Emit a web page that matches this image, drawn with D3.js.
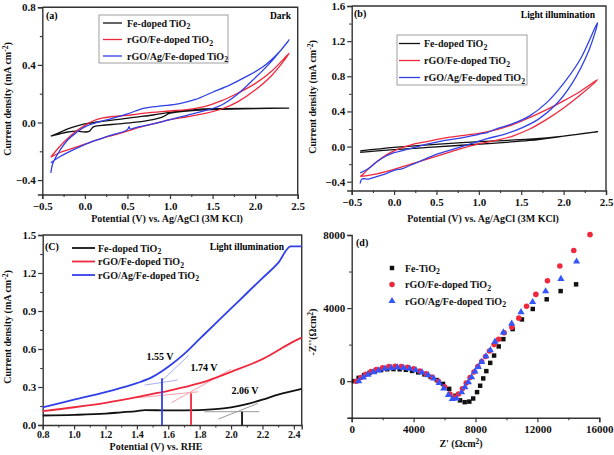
<!DOCTYPE html>
<html><head><meta charset="utf-8">
<script src="https://cdn.jsdelivr.net/npm/d3@7"></script>
<style>
body{margin:0;background:#fff;}
svg{display:block;font-family:"Liberation Serif","Times New Roman",serif;font-weight:bold;}
</style></head>
<body>
<svg id="chart" width="614" height="455"></svg>
<script>
// ---------- DATA ----------
const seriesNames = ["Fe-doped TiO", "rGO/Fe-doped TiO", "rGO/Ag/Fe-doped TiO"];
const eisNames = ["Fe-TiO", "rGO/Fe-doped TiO", "rGO/Ag/Fe-doped TiO"];
const colors = ["#111111", "#f0283c", "#3040e8"];

// (a) Dark CV loops [V, mA cm-2]
const darkFe = [[-0.4,-0.095],[-0.3,-0.07],[-0.2,-0.045],[-0.1,-0.025],[0,-0.01],[0.2,0.008],[0.4,0.022],[0.6,0.037],[0.8,0.052],[1.0,0.07],[1.2,0.085],[1.4,0.095],[1.6,0.096],[2.0,0.098],[2.4,0.1],
  [2.0,0.097],[1.6,0.092],[1.4,0.087],[1.2,0.08],[1.0,0.065],[0.95,0.05],[0.9,0.035],[0.8,0.02],[0.6,0.002],[0.4,-0.01],[0.2,-0.02],[0.1,-0.03],[0.05,-0.062],[0,-0.066],[-0.1,-0.06],[-0.2,-0.066],[-0.3,-0.08],[-0.4,-0.095]];
const darkRGO = [[-0.4,-0.24],[-0.3,-0.17],[-0.2,-0.11],[-0.1,-0.06],[0,-0.02],[0.1,0.012],[0.2,0.03],[0.3,0.04],[0.5,0.05],[0.7,0.065],[1.0,0.08],[1.2,0.09],[1.4,0.11],[1.6,0.15],[1.8,0.205],[2.0,0.27],[2.2,0.36],[2.4,0.48],
  [2.2,0.33],[2.0,0.225],[1.8,0.145],[1.6,0.092],[1.4,0.062],[1.2,0.04],[1.0,0.02],[0.8,-0.01],[0.6,-0.04],[0.4,-0.078],[0.2,-0.11],[0,-0.15],[-0.2,-0.19],[-0.3,-0.21],[-0.4,-0.24]];
const darkAg = [[-0.4,-0.35],[-0.38,-0.29],[-0.35,-0.25],[-0.3,-0.2],[-0.2,-0.12],[-0.1,-0.07],[0,-0.03],[0.2,0.01],[0.3,0.025],[0.5,0.06],[0.7,0.1],[0.9,0.115],[1.1,0.13],[1.3,0.16],[1.5,0.21],[1.7,0.26],[1.9,0.32],[2.1,0.39],[2.3,0.5],[2.4,0.575],
  [2.2,0.43],[2.0,0.31],[1.8,0.2],[1.6,0.12],[1.4,0.08],[1.2,0.05],[1.0,0.02],[0.8,-0.01],[0.6,-0.035],[0.53,-0.045],[0.52,-0.028],[0.5,-0.05],[0.3,-0.09],[0.1,-0.13],[-0.1,-0.18],[-0.3,-0.24],[-0.4,-0.28]];

// (b) Light CV loops
const lightFe = [[-0.4,-0.05],[0,-0.01],[0.4,0.02],[0.8,0.045],[1.2,0.065],[1.6,0.085],[2.0,0.12],[2.4,0.17],
  [2.0,0.118],[1.6,0.07],[1.2,0.04],[0.8,0.015],[0.4,-0.01],[0,-0.035],[-0.4,-0.065]];
const lightRGO = [[-0.4,-0.34],[-0.35,-0.3],[-0.3,-0.25],[-0.2,-0.17],[-0.1,-0.1],[0,-0.05],[0.1,-0.01],[0.2,0.02],[0.4,0.06],[0.6,0.1],[0.8,0.125],[1.0,0.15],[1.2,0.19],[1.4,0.25],[1.6,0.33],[1.8,0.42],[2.0,0.52],[2.2,0.63],[2.4,0.76],
  [2.2,0.59],[2.0,0.44],[1.8,0.31],[1.6,0.2],[1.4,0.12],[1.2,0.07],[1.0,0.03],[0.8,-0.02],[0.6,-0.08],[0.4,-0.14],[0.2,-0.2],[0,-0.26],[-0.2,-0.31],[-0.4,-0.34]];
const lightAg = [[-0.4,-0.42],[-0.38,-0.37],[-0.3,-0.37],[-0.2,-0.34],[-0.1,-0.31],[0,-0.27],[0.1,-0.25],[0.2,-0.21],[0.3,-0.17],[0.5,-0.09],[0.7,-0.03],[0.9,0.03],[1.1,0.09],[1.3,0.14],[1.5,0.21],[1.7,0.31],[1.9,0.47],[2.1,0.72],[2.3,1.1],[2.4,1.41],
  [2.2,1.0],[2.0,0.72],[1.8,0.5],[1.6,0.35],[1.4,0.26],[1.2,0.2],[1.1,0.16],[1.0,0.14],[0.8,0.1],[0.6,0.07],[0.4,0.03],[0.2,-0.02],[0,-0.07],[-0.1,-0.11],[-0.2,-0.17],[-0.3,-0.25],[-0.4,-0.3]];

// (c) LSV vs RHE
const lsvFe = [[0.8,0.075],[1.0,0.08],[1.2,0.09],[1.3,0.1],[1.4,0.11],[1.45,0.118],[1.6,0.115],[1.8,0.118],[1.9,0.125],[2.0,0.14],[2.1,0.165],[2.2,0.2],[2.3,0.24],[2.45,0.285]];
const lsvRGO = [[0.8,0.11],[1.0,0.14],[1.2,0.175],[1.4,0.22],[1.5,0.245],[1.6,0.27],[1.74,0.31],[1.8,0.33],[2.0,0.42],[2.2,0.52],[2.4,0.66],[2.45,0.69]];
const lsvAg = [[0.8,0.14],[1.0,0.2],[1.2,0.26],[1.4,0.33],[1.5,0.38],[1.6,0.46],[1.7,0.56],[1.8,0.68],[1.9,0.8],[2.0,0.92],[2.1,1.04],[2.2,1.16],[2.3,1.28],[2.38,1.41],[2.45,1.41]];
const onsetLabels = ["2.06 V", "1.74 V", "1.55 V"];
const onsetMarkX = [2.07, 1.745, 1.56];
const onsetMarkTop = [0.105, 0.25, 0.37];
const tangentsFe = [[[1.83,0.105],[2.18,0.105]], [[1.92,0.047],[2.17,0.17]]];
const tangentsRGO = [[[1.4,0.215],[1.79,0.262]], [[1.62,0.176],[2.0,0.44]]];
const tangentsAg = [[[1.45,0.315],[1.66,0.355]], [[1.56,0.35],[1.73,0.55]]];

// (d) Nyquist [Z', -Z'']
const eisFe = [[150,0],[450,180],[800,330],[1150,450],[1500,540],[1900,610],[2300,650],[2700,660],[3100,650],[3500,620],[3900,560],[4300,480],[4700,370],[5100,230],[5500,60],[5900,-150],[6300,-420],[6700,-800],[7000,-1050],[7300,-1150],[7600,-1120],[7850,-950],[8100,-600],[8300,-250],[8500,150],[8700,550],[8950,1000],[9200,1400],[9500,1900],[9800,2300],[10400,2850],[11000,3380],[11700,3950],[12600,4480],[13500,4930],[14500,5300]];
const eisRGO = [[300,0],[600,200],[900,380],[1250,530],[1600,640],[2000,740],[2400,800],[2800,820],[3200,800],[3600,760],[4000,680],[4400,560],[4800,400],[5200,220],[5600,0],[6000,-300],[6350,-700],[6650,-880],[6900,-700],[7150,-420],[7400,-100],[7650,200],[7900,500],[8150,800],[8400,1080],[8650,1350],[8900,1650],[9200,2000],[9500,2300],[9850,2650],[10350,2950],[10800,3450],[11300,4100],[11900,4750],[12650,5500],[13450,6300],[14350,7150],[15400,8020]];
const eisAg = [[450,0],[750,200],[1050,360],[1400,490],[1750,590],[2150,680],[2550,730],[2950,750],[3350,730],[3750,680],[4150,600],[4550,480],[4950,330],[5300,150],[5650,-100],[5950,-400],[6250,-750],[6500,-980],[6780,-950],[7100,-610],[7320,-330],[7540,-55],[7750,220],[7970,535],[8180,775],[8400,1050],[8680,1360],[8960,1700],[9260,2160],[9800,2670],[10340,3150],[10940,3780],[11690,4330],[12530,4920],[13520,5600],[14530,6550]];

// axis ticks
const ticksCV = [-0.5,0.0,0.5,1.0,1.5,2.0,2.5];
const ticksA_y = [-0.4,0.0,0.4,0.8];
const ticksB_y = [-0.4,0.0,0.4,0.8,1.2,1.6];
const ticksC_x = [0.8,1.0,1.2,1.4,1.6,1.8,2.0,2.2,2.4];
const ticksC_y = [0.0,0.3,0.6,0.9,1.2,1.5];
const ticksD_x = [0,4000,8000,12000,16000];
const ticksD_y = [0,4000,8000];

// ---------- DRAW ----------
const svg = d3.select("#chart");
const AX = "#333";

function panel(box, xd, yd, xt, yt, xMinor, yMinor, fmtX, fmtY, frame, xFont) {
  const x = d3.scaleLinear().domain(xd).range([box.x0, box.x1]);
  const y = d3.scaleLinear().domain(yd).range([box.y1, box.y0]);
  const g = svg.append("g");
  g.append("g").attr("transform", `translate(0,${box.y1})`)
    .call(d3.axisBottom(x).tickValues(xMinor).tickSize(2.5).tickFormat(""))
    .call(s => { s.select(".domain").remove(); s.selectAll("line").attr("stroke", AX).attr("stroke-width", 1.1); });
  g.append("g").attr("transform", `translate(${box.x0},0)`)
    .call(d3.axisLeft(y).tickValues(yMinor).tickSize(2.5).tickFormat(""))
    .call(s => { s.select(".domain").remove(); s.selectAll("line").attr("stroke", AX).attr("stroke-width", 1.1); });
  const gx = g.append("g").attr("transform", `translate(0,${box.y1})`)
    .call(d3.axisBottom(x).tickValues(xt).tickSize(4.5).tickPadding(xFont ? 1.5 : 3).tickFormat(fmtX));
  const gy = g.append("g").attr("transform", `translate(${box.x0},0)`)
    .call(d3.axisLeft(y).tickValues(yt).tickSize(4.5).tickPadding(2).tickFormat(fmtY));
  [gx, gy].forEach((a, k) => {
    a.select(".domain").attr("stroke", AX).attr("stroke-width", 1.4);
    a.selectAll(".tick line").attr("stroke", AX).attr("stroke-width", 1.2);
    a.selectAll("text").attr("fill", "#111").style("font-size", (k === 0 && xFont ? xFont : 11) + "px")
      .style("font-family", '"Liberation Serif",serif').style("font-weight", "bold");
  });
  if (frame) {
    g.append("path").attr("fill", "none").attr("stroke", AX).attr("stroke-width", 1.4)
      .attr("d", `M${box.x0},${box.y0}H${box.x1}V${box.y1}`);
  }
  return {x, y, g};
}

function subText(g, xPos, yPos, main, sub, size, anchor) {
  const t = g.append("text").attr("x", xPos).attr("y", yPos).style("font-size", size + "px")
    .attr("fill", "#111").attr("text-anchor", anchor || "start");
  t.append("tspan").text(main);
  if (sub) t.append("tspan").attr("dy", size * 0.28).style("font-size", (size * 0.78) + "px").text(sub);
  return t;
}

function titleParts(t, parts) {
  parts.forEach(p => {
    const s = t.append("tspan").text(p.t);
    if (p.sup) s.attr("dy", -3.5).style("font-size", "7.5px");
    if (p.back) s.attr("dy", 3.5);
  });
}
function yTitle(xPos, yPos, parts) {
  const t = svg.append("text").attr("transform", `translate(${xPos},${yPos}) rotate(-90)`)
    .attr("text-anchor", "middle").style("font-size", "10px").attr("fill", "#111");
  titleParts(t, parts);
}
function xTitle(xPos, yPos, parts) {
  const t = svg.append("text").attr("x", xPos).attr("y", yPos)
    .attr("text-anchor", "middle").style("font-size", "10px").attr("fill", "#111");
  titleParts(t, parts);
}
const fmt1 = d3.format(".1f");
const cdParts = [{t:"Current density (mA cm"},{t:"-2", sup:true},{t:")", back:true}];

const lineGen = (p) => d3.line().x(d => p.x(d[0])).y(d => p.y(d[1])).curve(d3.curveCatmullRom.alpha(0.5));

// ----- Panel (a)
const pa = panel({x0:42.3, x1:297.7, y0:7.3, y1:194.5}, [-0.5,2.5], [-0.5,0.8], ticksCV, ticksA_y,
  d3.range(-0.25, 2.5, 0.5), [-0.2,0.2,0.6], fmt1, fmt1, true);
[darkFe, darkRGO, darkAg].forEach((d, i) => {
  pa.g.append("path").datum(d).attr("fill","none").attr("stroke",colors[i]).attr("stroke-width",1.3).attr("d", lineGen(pa));
});
pa.g.append("rect").attr("x",99).attr("y",15).attr("width",129).attr("height",48).attr("fill","none").attr("stroke","#888").attr("stroke-width",0.8);
seriesNames.forEach((n, i) => {
  const yy = 23 + i * 16.5;
  pa.g.append("line").attr("x1",103).attr("x2",122).attr("y1",yy).attr("y2",yy).attr("stroke",colors[i]).attr("stroke-width",1.3);
  subText(pa.g, 127, yy + 3.5, n, "2", 10);
});
pa.g.append("text").attr("x",46).attr("y",19).style("font-size","10px").text("(a)");
pa.g.append("text").attr("x",291).attr("y",19).attr("text-anchor","end").style("font-size","9.5px").text("Dark");
yTitle(11, 99, cdParts);
xTitle(167, 222, [{t:"Potential (V) vs. Ag/AgCl (3M KCl)"}]);

// ----- Panel (b)
const pb = panel({x0:351.7, x1:606, y0:6, y1:190.5}, [-0.5,2.5], [-0.5,1.6], ticksCV, ticksB_y,
  d3.range(-0.25, 2.5, 0.5), [-0.2,0.2,0.6,1.0,1.4], fmt1, fmt1, true);
[lightFe, lightRGO, lightAg].forEach((d, i) => {
  pb.g.append("path").datum(d).attr("fill","none").attr("stroke",colors[i]).attr("stroke-width",1.3).attr("d", lineGen(pb));
});
pb.g.append("rect").attr("x",397).attr("y",35).attr("width",130).attr("height",50).attr("fill","none").attr("stroke","#888").attr("stroke-width",0.8);
seriesNames.forEach((n, i) => {
  const yy = 43.5 + i * 17;
  pb.g.append("line").attr("x1",399).attr("x2",420).attr("y1",yy).attr("y2",yy).attr("stroke",colors[i]).attr("stroke-width",1.3);
  subText(pb.g, 424, yy + 3.5, n, "2", 10);
});
pb.g.append("text").attr("x",354).attr("y",17).style("font-size","10px").text("(b)");
pb.g.append("text").attr("x",595).attr("y",18).attr("text-anchor","end").style("font-size","9.5px").text("Light illumination");
yTitle(316, 97, cdParts);
xTitle(483, 222, [{t:"Potential (V) vs. Ag/AgCl (3M KCl)"}]);

// ----- Panel (c)
const pc = panel({x0:42.7, x1:301.7, y0:235, y1:425}, [0.8,2.45], [0,1.5], ticksC_x, ticksC_y,
  d3.range(0.9, 2.45, 0.2), [0.15,0.45,0.75,1.05,1.35], fmt1, fmt1, true, 10);
const lineC = d3.line().x(d => pc.x(d[0])).y(d => pc.y(d[1])).curve(d3.curveMonotoneX);
const tanColors = ["#9a9a9a", "#f7a0aa", "#a8b0f0"];
[tangentsFe, tangentsRGO, tangentsAg].forEach((tl, i) => {
  tl.forEach(seg => {
    pc.g.append("line").attr("x1",pc.x(seg[0][0])).attr("y1",pc.y(seg[0][1])).attr("x2",pc.x(seg[1][0])).attr("y2",pc.y(seg[1][1]))
      .attr("stroke",tanColors[i]).attr("stroke-width",1);
  });
});
[lsvFe, lsvRGO, lsvAg].forEach((d, i) => {
  pc.g.append("path").datum(d).attr("fill","none").attr("stroke",colors[i]).attr("stroke-width",1.8).attr("d", lineC);
});
onsetMarkX.forEach((v, i) => {
  pc.g.append("line").attr("x1",pc.x(v)).attr("x2",pc.x(v)).attr("y1",pc.y(0)).attr("y2",pc.y(onsetMarkTop[i]))
    .attr("stroke",colors[i]).attr("stroke-width",1.8);
});
const labPos = [[245,394],[204,371],[160,360]];
onsetLabels.forEach((l, i) => {
  pc.g.append("text").attr("x",labPos[i][0]).attr("y",labPos[i][1]).attr("text-anchor","middle").style("font-size","10px").text(l);
});
seriesNames.forEach((n, i) => {
  const yy = 248 + i * 13.5;
  pc.g.append("line").attr("x1",72).attr("x2",95).attr("y1",yy).attr("y2",yy).attr("stroke",colors[i]).attr("stroke-width",1.8);
  subText(pc.g, 98, yy + 3.5, n, "2", 10);
});
pc.g.append("text").attr("x",45).attr("y",250).style("font-size","10px").text("(C)");
pc.g.append("text").attr("x",284).attr("y",250).attr("text-anchor","end").style("font-size","9.5px").text("Light illumination");
yTitle(11, 327, cdParts);
xTitle(156, 450, [{t:"Potential (V) vs. RHE"}]);

// ----- Panel (d)
const pd = panel({x0:351.7, x1:599.3, y0:235, y1:417.7}, [0,16000], [-2000,8000], ticksD_x, ticksD_y,
  d3.range(2000, 16000, 4000), [-2000,2000,6000], d3.format("d"), d3.format("d"), false);
const sym = [d3.symbolSquare, d3.symbolCircle, d3.symbolTriangle];
const symSize = [20, 24, 22];
[eisFe, eisRGO, eisAg].forEach((d, i) => {
  pd.g.append("g").selectAll("path").data(d).join("path")
    .attr("transform", p => `translate(${pd.x(p[0])},${pd.y(p[1])})`)
    .attr("d", d3.symbol().type(sym[i]).size(symSize[i]))
    .attr("fill", i === 2 ? "#3355ff" : colors[i]);
});
eisNames.forEach((n, i) => {
  const yy = 268 + i * 16.5;
  pd.g.append("path").attr("transform",`translate(392,${yy})`).attr("d", d3.symbol().type(sym[i]).size(symSize[i]))
    .attr("fill", i === 2 ? "#3355ff" : colors[i]);
  subText(pd.g, 405, yy + 3.5, n, "2", 10);
});
pd.g.append("text").attr("x",356).attr("y",246).style("font-size","10px").text("(d)");
yTitle(316, 332, [{t:"-Z''(\u03A9cm"},{t:"2", sup:true},{t:")", back:true}]);
xTitle(461, 447, [{t:"Z' (\u03A9cm"},{t:"2", sup:true},{t:")", back:true}]);
</script>
</body></html>
